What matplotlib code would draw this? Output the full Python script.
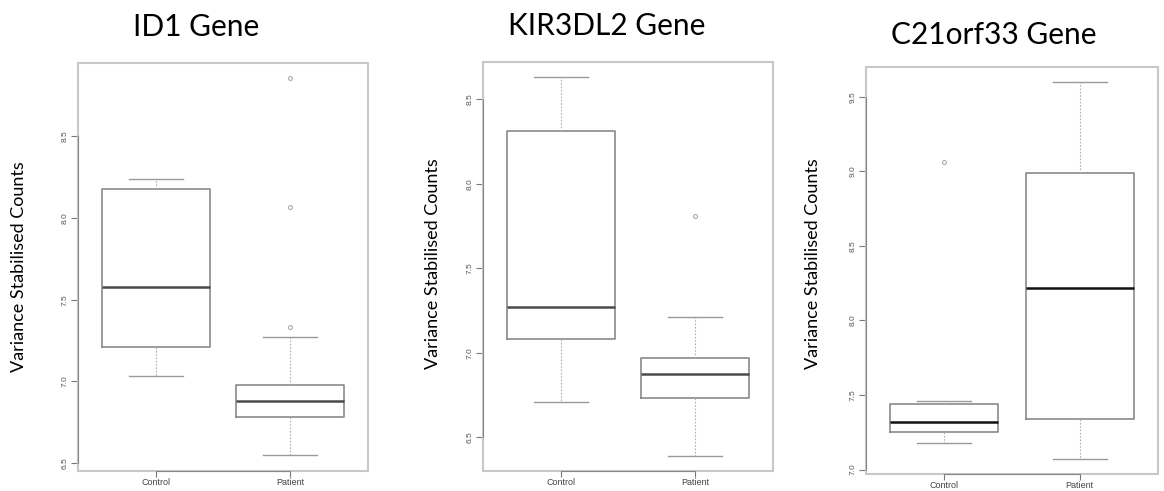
import matplotlib
matplotlib.use("Agg")
import matplotlib.pyplot as plt
from matplotlib.patches import Rectangle

# values
genes = ["ID1 Gene", "KIR3DL2 Gene", "C21orf33 Gene"]
groups = ["Control", "Patient"]

whislo = [[7.03, 6.55], [6.71, 6.39], [7.18, 7.07]]
q1 = [[7.21, 6.78], [7.08, 6.73], [7.25, 7.34]]
med = [[7.58, 6.88], [7.27, 6.875], [7.32, 8.22]]
q3 = [[8.18, 6.975], [8.31, 6.97], [7.44, 8.99]]
whishi = [[8.24, 7.27], [8.63, 7.21], [7.46, 9.60]]
fliers = [[[], [8.86, 8.065, 7.33]], [[], [7.81]], [[9.06], []]]

yticks = [[6.5, 7.0, 7.5, 8.0, 8.5], [6.5, 7.0, 7.5, 8.0, 8.5],
          [7.0, 7.5, 8.0, 8.5, 9.0, 9.5]]
ylims = [(6.45, 8.95), (6.30, 8.72), (6.97, 9.70)]

# layout in pixels (left, right, top, bottom)
boxes_px = [(78, 368, 63, 471), (483, 773, 62, 471), (866, 1158, 67, 474)]
title_px = [(196, 27), (607, 26), (994, 35)]
ylab_px = [(19, 267), (433, 264), (813, 264)]

W, H = 1164, 491
fig = plt.figure(figsize=(W / 100, H / 100), dpi=100)

for i in range(3):
    l, r, t, b = boxes_px[i]
    ax = fig.add_axes([l / W, (H - b) / H, (r - l) / W, (b - t) / H])
    stats = []
    for j in range(2):
        stats.append(dict(med=med[i][j], q1=q1[i][j], q3=q3[i][j],
                          whislo=whislo[i][j], whishi=whishi[i][j],
                          fliers=fliers[i][j], label=groups[j]))
    medcol = "#111111" if i == 2 else "#4a4a4a"
    ax.bxp(stats, positions=[1, 2], widths=0.8, capwidths=0.4,
           boxprops=dict(color="#8a8a8a", lw=1.2),
           whiskerprops=dict(color="#b0b0b0", lw=0.8, ls=(0, (1.5, 1.5))),
           capprops=dict(color="#9a9a9a", lw=1.0),
           medianprops=dict(color=medcol, lw=1.8),
           flierprops=dict(marker="o", markersize=2.8, markerfacecolor="none",
                           markeredgecolor="#a0a0a0", markeredgewidth=0.7))
    ax.set_xlim(0.42, 2.58)
    ax.set_ylim(*ylims[i])
    ax.set_yticks(yticks[i])
    ax.set_yticklabels(["%.1f" % v for v in yticks[i]], rotation=90,
                       va="center", fontsize=6, color="#555555",
                       family="Liberation Sans")
    ax.set_xticks([1, 2])
    ax.set_xticklabels(groups, fontsize=6.5, color="#444444",
                       family="Liberation Sans")
    ax.tick_params(axis="y", length=5, width=0.8, color="#777777", pad=2)
    ax.tick_params(axis="x", length=4, width=0.8, color="#777777", pad=1)

    # light frame all round, darker axis lines only between the end ticks
    ax.add_patch(Rectangle((0, 0), 1, 1, transform=ax.transAxes, fill=False,
                           ec="#c8c8c8", lw=1.5, clip_on=False, zorder=5))
    for s in ["top", "right"]:
        ax.spines[s].set_visible(False)
    ax.spines["left"].set_bounds(yticks[i][0], yticks[i][-1])
    ax.spines["bottom"].set_bounds(1, 2)
    ax.spines["left"].set_color("#888888")
    ax.spines["bottom"].set_color("#888888")
    ax.spines["left"].set_zorder(6)
    ax.spines["bottom"].set_zorder(6)

    tx, ty = title_px[i]
    fig.text(tx / W, 1 - ty / H, genes[i], ha="center", va="center",
             fontsize=21.5, family="Lato")
    lx, ly = ylab_px[i]
    fig.text(lx / W, 1 - ly / H, "Variance Stabilised Counts", rotation=90,
             ha="center", va="center", fontsize=13, family="Lato")

fig.savefig("out.png", dpi=100)
